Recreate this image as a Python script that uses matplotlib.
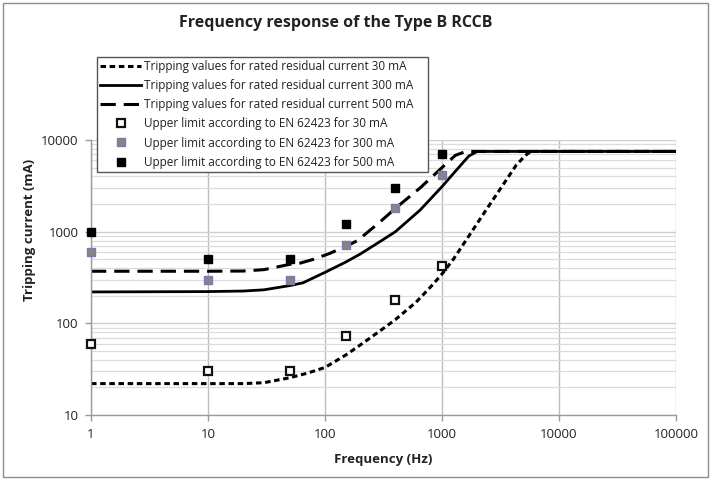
import matplotlib
matplotlib.use("Agg")
import matplotlib.pyplot as plt
from matplotlib.patches import Rectangle
from matplotlib.ticker import LogLocator, FixedLocator, NullFormatter

plt.rcParams['font.family'] = ['Open Sans', 'DejaVu Sans']

# Tripping characteristic curves (frequency in Hz, current in mA)
freq_30 = [1, 10, 20, 30, 50, 70, 100, 150, 200, 300, 400, 600, 800, 1000,
           1250, 1700, 2400, 3300, 4300, 5000, 5400, 5800, 100000]
trip_30 = [22, 22, 22, 22.5, 25.5, 28.5, 33, 45, 58, 84, 110, 170, 250, 345,
           500, 900, 1750, 3200, 5300, 6500, 7100, 7500, 7500]

freq_300 = [1, 10, 20, 30, 50, 65, 100, 150, 200, 300, 400, 650, 1000, 1250,
            1500, 1700, 2000, 100000]
trip_300 = [220, 222, 225, 232, 258, 277, 360, 465, 570, 790, 1000, 1720, 3100,
            4300, 5600, 6700, 7500, 7500]

freq_500 = [1, 10, 20, 30, 40, 50, 60, 80, 110, 150, 190, 300, 400, 650, 1000,
            1300, 1600, 100000]
trip_500 = [370, 370, 372, 385, 415, 440, 450, 500, 580, 690, 800, 1300, 1800,
            3000, 5000, 6800, 7500, 7500]

# Upper limits according to EN 62423
limit_freq = [1, 10, 50, 150, 400, 1000]
limit_30 = [60, 30, 30, 72, 180, 420]
limit_300 = [600, 300, 300, 720, 1800, 4200]
limit_500 = [1000, 500, 500, 1200, 3000, 7000]

x_ticks = [1, 10, 100, 1000, 10000, 100000]
x_tick_labels = ["1", "10", "100", "1000", "10000", "100000"]
y_ticks = [10, 100, 1000, 10000]
y_tick_labels = ["10", "100", "1000", "10000"]

legend_labels = [
    "Tripping values for rated residual current 30 mA",
    "Tripping values for rated residual current 300 mA",
    "Tripping values for rated residual current 500 mA",
    "Upper limit according to EN 62423 for 30 mA",
    "Upper limit according to EN 62423 for 300 mA",
    "Upper limit according to EN 62423 for 500 mA",
]

W, H = 711, 480
fig = plt.figure(figsize=(W / 100, H / 100), dpi=100)
ax = fig.add_axes([91 / W, 1 - 415 / H, (676 - 91) / W, (415 - 140) / H])

ax.set_xscale('log')
ax.set_yscale('log')
ax.set_xlim(1, 100000)
ax.set_ylim(10, 10000)

# Grid: vertical lines at decades, horizontal at every log subdivision
ax.xaxis.set_major_locator(FixedLocator(x_ticks))
ax.set_xticklabels(x_tick_labels)
ax.xaxis.set_minor_locator(FixedLocator([]))
ax.yaxis.set_major_locator(FixedLocator(y_ticks))
ax.set_yticklabels(y_tick_labels)
ax.yaxis.set_minor_locator(LogLocator(base=10, subs=range(2, 10), numticks=20))
ax.yaxis.set_minor_formatter(NullFormatter())

ax.grid(True, which='major', axis='x', color='#bdbdbd', lw=1.0)
ax.grid(True, which='major', axis='y', color='#cfcfcf', lw=1.0)
ax.grid(True, which='minor', axis='y', color='#dcdcdc', lw=0.9)
ax.set_axisbelow(True)

for side in ['top', 'right']:
    ax.spines[side].set_visible(False)
for side in ['left', 'bottom']:
    ax.spines[side].set_color('#9a9a9a')
    ax.spines[side].set_linewidth(1.0)

ax.tick_params(axis='both', which='major', length=4, width=1, color='#9a9a9a',
               labelsize=9.5, labelcolor='#222222', pad=5)
ax.tick_params(axis='y', which='minor', length=0)

# Curves
l30, = ax.plot(freq_30, trip_30, color='black', lw=2.2, ls=(0, (1.8, 1.2)))
l300, = ax.plot(freq_300, trip_300, color='black', lw=2.0, ls='-')
l500, = ax.plot(freq_500, trip_500, color='black', lw=2.2, ls=(0, (5.0, 2.6)))

# Limit markers
ms = 6
m30, = ax.plot(limit_freq, limit_30, ls='none', marker='s', ms=ms,
               mfc='white', mec='#111111', mew=1.6, clip_on=False, zorder=5)
m300, = ax.plot(limit_freq, limit_300, ls='none', marker='s', ms=ms,
                mfc='#858585', mec='#8673b0', mew=1.0, clip_on=False, zorder=5)
m500, = ax.plot(limit_freq, limit_500, ls='none', marker='s', ms=ms,
                mfc='black', mec='black', mew=1.0, clip_on=False, zorder=5)

leg = fig.legend([l30, l300, l500, m30, m300, m500], legend_labels,
                 loc='upper left',
                 bbox_to_anchor=(97 / W, 1 - 167 / H, (428 - 97) / W, 110 / H),
                 mode='expand',
                 fontsize=8.5, frameon=True, fancybox=False, framealpha=1,
                 edgecolor='#555555', borderpad=0.25, labelspacing=0.52,
                 handlelength=3.5, handletextpad=0.2, borderaxespad=0,
                 numpoints=1)
leg.get_frame().set_linewidth(1.0)
for t in leg.get_texts():
    t.set_color('#222222')

ax.set_xlabel("Frequency (Hz)", fontsize=9.5, fontweight='bold', color='#222222')
ax.xaxis.set_label_coords(0.5, -0.14)
fig.text(30 / W, 1 - 230 / H, "Tripping current (mA)", rotation=90,
         ha='center', va='center', fontsize=9.5, fontweight='bold', color='#222222')

fig.text(336 / W, 1 - 23 / H, "Frequency response of the Type B RCCB",
         ha='center', va='center', fontsize=11.5, fontweight='bold', color='#222222')

# Outer frame of the chart
fig.add_artist(Rectangle((3 / W, 3 / H), (W - 6) / W, (H - 6) / H,
                         transform=fig.transFigure, fill=False,
                         edgecolor='#8c8c8c', lw=1.0))

fig.savefig("out.png", dpi=100)
